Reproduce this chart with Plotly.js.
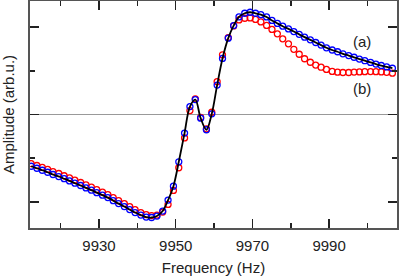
<!DOCTYPE html>
<html>
<head>
<meta charset="utf-8">
<script src="https://cdn.plot.ly/plotly-3.0.1.min.js"></script>
<style>html,body{margin:0;padding:0;background:#fff;}#chart{width:399px;height:276px;}</style>
</head>
<body>
<div id="chart"></div>
<script>
// Frequencies (Hz)
const freq = [9912.3,9913.8,9915.2,9916.6,9918.0,9919.5,9920.9,9922.3,9923.7,9925.2,
  9926.6,9928.0,9929.4,9930.9,9932.3,9933.7,9935.1,9936.6,9938.0,9939.4,
  9940.9,9942.3,9943.7,9945.1,9946.6,9948.0,9949.4,9950.8,9952.3,9953.7,
  9955.1,9956.5,9958.0,9959.4,9960.8,9962.2,9963.7,9965.1,9966.5,9968.0,
  9969.4,9970.8,9972.2,9973.7,9975.1,9976.5,9977.9,9979.4,9980.8,9982.2,
  9983.6,9985.1,9986.5,9987.9,9989.3,9990.8,9992.2,9993.6,9995.1,9996.5,
  9997.9,9999.3,10000.8,10002.2,10003.6,10005.0,10006.5];
// Series (a) - blue open circles
const seriesA = [-1.186,-1.231,-1.277,-1.323,-1.375,-1.421,-1.471,-1.521,-1.574,-1.626,
  -1.681,-1.733,-1.790,-1.847,-1.904,-1.973,-2.041,-2.109,-2.178,-2.246,
  -2.303,-2.349,-2.360,-2.326,-2.212,-1.961,-1.642,-1.083,-0.426,0.182,
  0.342,-0.084,-0.349,0.016,0.673,1.284,1.749,2.036,2.235,2.319,
  2.342,2.319,2.287,2.235,2.155,2.087,2.023,1.961,1.900,1.836,
  1.772,1.710,1.649,1.590,1.528,1.478,1.437,1.391,1.350,1.311,
  1.270,1.232,1.193,1.156,1.122,1.090,1.060];
// Series (b) - red open circles
const seriesB = [-1.124,-1.168,-1.213,-1.259,-1.307,-1.352,-1.403,-1.453,-1.505,-1.558,
  -1.612,-1.665,-1.722,-1.779,-1.836,-1.904,-1.973,-2.041,-2.109,-2.178,
  -2.246,-2.292,-2.315,-2.303,-2.235,-2.059,-1.740,-1.220,-0.536,0.091,
  0.358,-0.068,-0.331,0.052,0.753,1.368,1.763,2.030,2.166,2.205,
  2.212,2.178,2.121,2.041,1.950,1.847,1.733,1.619,1.494,1.380,
  1.277,1.197,1.133,1.083,1.033,0.987,0.969,0.962,0.962,0.971,
  0.976,0.981,0.983,0.981,0.976,0.967,0.946];
// Fit curve - black line
const fitY = [-1.186,-1.231,-1.277,-1.323,-1.375,-1.421,-1.471,-1.521,-1.574,-1.626,
  -1.681,-1.733,-1.790,-1.847,-1.904,-1.973,-2.041,-2.109,-2.178,-2.246,
  -2.303,-2.349,-2.360,-2.326,-2.212,-1.961,-1.642,-1.083,-0.426,0.182,
  0.342,-0.084,-0.349,0.016,0.673,1.284,1.749,2.036,2.235,2.319,
  2.342,2.319,2.287,2.235,2.155,2.087,2.023,1.961,1.900,1.836,
  1.772,1.710,1.649,1.590,1.528,1.478,1.437,1.391,1.350,1.311,
  1.270,1.232,1.193,1.156,1.122,1.090,1.060];
const labelText = ['(a)', '(b)'];
const labelX = [9998.5, 9998.5];
const labelY = [1.67, 0.586];

const FONT = 'Liberation Sans, Arial, sans-serif';
const AX = '#555';

const traces = [
  {x: freq, y: seriesB, type: 'scatter', mode: 'markers',
   marker: {symbol: 'circle-open', size: 6, color: '#ff0000', line: {width: 1.3, color: '#ff0000'}}},
  {x: freq, y: seriesA, type: 'scatter', mode: 'markers',
   marker: {symbol: 'circle-open', size: 6, color: '#0000ff', line: {width: 1.3, color: '#0000ff'}}},
  {x: freq, y: fitY, type: 'scatter', mode: 'lines',
   line: {color: '#000', width: 1.8, shape: 'spline', smoothing: 1}}
];

const layout = {
  width: 399, height: 276,
  margin: {l: 30, r: 2, t: 1, b: 48},
  paper_bgcolor: '#fff', plot_bgcolor: '#fff',
  showlegend: false,
  font: {family: FONT, color: '#222'},
  xaxis: {
    range: [9912, 10007.7],
    showgrid: false, zeroline: false,
    showline: true, linecolor: AX, linewidth: 2, mirror: 'ticks',
    ticks: 'inside', ticklen: 9, tickwidth: 1.5, tickcolor: '#222',
    tick0: 9930, dtick: 20, tickformat: 'd', ticklabelstandoff: 3,
    minor: {ticks: 'inside', ticklen: 5, tickwidth: 1.5, tickcolor: '#222', dtick: 10, tick0: 9930, showgrid: false},
    tickfont: {size: 15, family: FONT, color: '#222'},
    title: {text: 'Frequency (Hz)', font: {size: 15, family: FONT, color: '#222'}, standoff: 9}
  },
  yaxis: {
    range: [-2.6, 2.6],
    showgrid: false,
    zeroline: true, zerolinecolor: '#999', zerolinewidth: 1,
    showline: true, linecolor: AX, linewidth: 2, mirror: 'ticks',
    ticks: 'inside', ticklen: 9, tickwidth: 1.5, tickcolor: '#222',
    tick0: 0, dtick: 2,
    minor: {ticks: 'inside', ticklen: 5, tickwidth: 1.5, tickcolor: '#222', dtick: 1, tick0: 0, showgrid: false},
    showticklabels: false,
    title: {text: 'Amplitude (arb.u.)', font: {size: 15, family: FONT, color: '#222'}, standoff: 14}
  },
  annotations: labelText.map((t, i) => ({
    x: labelX[i], y: labelY[i], xref: 'x', yref: 'y', text: t, showarrow: false,
    font: {size: 15, family: FONT, color: '#222'}
  }))
};

Plotly.newPlot('chart', traces, layout, {displayModeBar: false, staticPlot: true});
</script>
</body>
</html>
